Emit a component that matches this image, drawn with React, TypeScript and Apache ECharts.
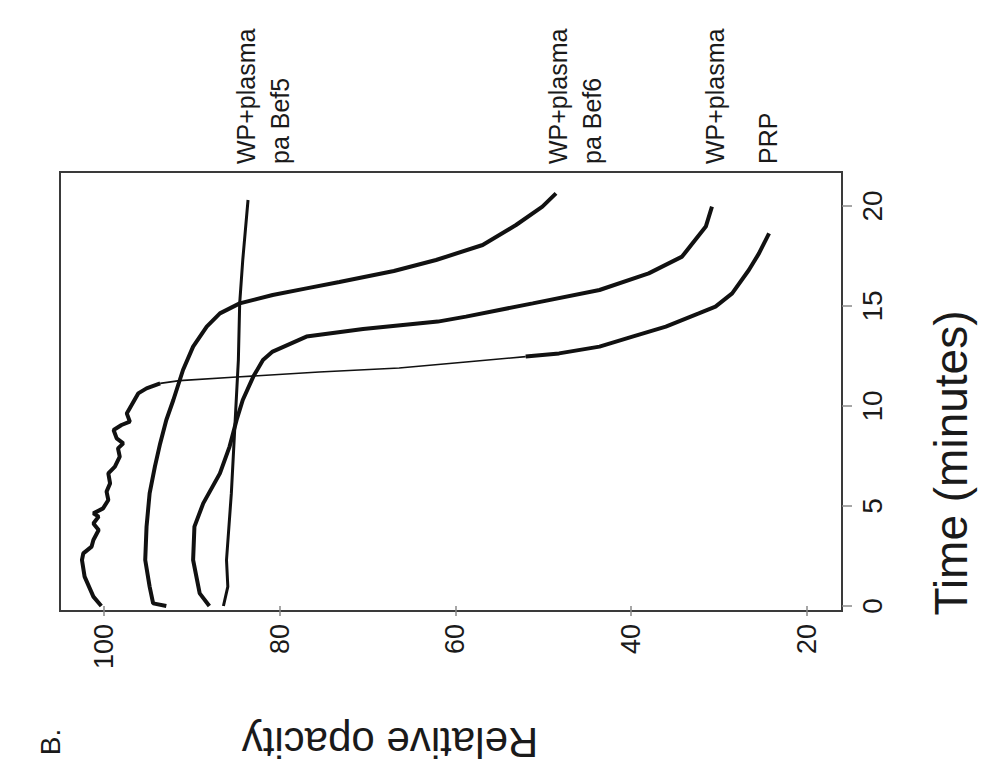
import React, { useEffect, useRef } from "react";
import * as echarts from "echarts";

const FONT = '"Liberation Sans", Arial, Helvetica, sans-serif';

// x-axis (horizontal): relative opacity, y-axis (vertical, right): time in minutes
const opacityTicks = [20, 40, 60, 80, 100];
const timeTicks = [0, 5, 10, 15, 20];

// PRP (jagged start, sharp drop around 11-12 min)
const prpTime = [0, 0.47, 1.47, 2.3, 2.63, 2.97, 3.3, 3.8, 4.13, 4.47, 4.63, 4.88, 5.3, 5.72, 6.13, 6.63, 6.97, 7.47, 7.88, 8.13, 8.38, 8.8, 9.05, 9.22, 9.63, 10.05, 10.63, 10.88, 11.13, 11.27, 11.45, 11.7, 11.9, 12.2, 12.47, 12.63, 12.97, 13.47, 13.97, 14.63, 14.97, 15.63, 16.8, 17.63, 18.63];
const prpOpacity = [100.3, 101.2, 102.2, 102.5, 102.35, 101.4, 101.2, 100.6, 101.2, 100.6, 101.2, 100.1, 99.5, 99.7, 99.3, 99.5, 98.75, 98.2, 98.4, 97.8, 98.55, 98.9, 98.0, 97.05, 97.4, 96.85, 96.1, 95.15, 93.6, 91.4, 84.9, 75.5, 66.4, 58.8, 52.0, 48.2, 43.6, 39.85, 36.05, 32.3, 30.4, 28.5, 26.6, 25.45, 24.3];

// WP+plasma pa Bef6
const bef6Time = [0, 0.13, 0.97, 2.3, 3.97, 5.63, 6.97, 8.13, 9.3, 10.3, 11.8, 12.97, 13.97, 14.63, 15.13, 15.55, 15.88, 16.2, 16.75, 17.3, 18.05, 19.05, 19.97, 20.63];
const bef6Opacity = [92.9, 94.4, 94.8, 95.3, 95.15, 94.8, 94.2, 93.6, 92.9, 92.1, 91.0, 89.85, 88.3, 86.8, 84.55, 80.8, 76.95, 73.2, 67.0, 62.2, 56.9, 53.1, 50.1, 48.55];

// WP+plasma
const wpTime = [0, 0.63, 2.3, 3.97, 5.13, 6.63, 7.97, 9.3, 10.3, 11.47, 12.3, 12.72, 13.47, 13.85, 14.22, 14.47, 15.13, 15.8, 16.63, 17.47, 18.97, 19.97];
const wpOpacity = [88.0, 89.1, 89.85, 89.7, 88.7, 86.8, 85.7, 84.9, 84.2, 83.0, 81.9, 80.8, 76.95, 70.5, 62.0, 58.8, 51.2, 43.6, 38.0, 34.2, 31.5, 30.8];

// WP+plasma pa Bef5
const bef5Time = [0, 0.97, 2.3, 5.63, 8.97, 12.3, 15.13, 17.3, 20.3];
const bef5Opacity = [86.4, 85.9, 86.05, 85.5, 85.1, 84.7, 84.55, 84.2, 83.6];

const zip = (o: number[], t: number[]) => o.map((v, i) => [v, t[i]]);

export default function App() {
  const ref = useRef<HTMLDivElement>(null);
  useEffect(() => {
    if (!ref.current) return;
    const chart = echarts.init(ref.current, null, { renderer: "svg" });
    const prp = zip(prpOpacity, prpTime);
    const lineBase = { type: "line", showSymbol: false, symbol: "none", smooth: false, silent: true };
    const txt = (text: string, x: number, y: number, size: number, rotation: number, align = "center") => ({
      type: "text",
      x,
      y,
      rotation,
      style: { text, fontSize: size, fontFamily: FONT, fill: "#1a1a1a", align, verticalAlign: "middle" },
    });
    chart.setOption({
      animation: false,
      backgroundColor: "#ffffff",
      grid: { left: 60, right: 142, top: 172, bottom: 171, show: true, borderColor: "#3a3a3a", borderWidth: 2, backgroundColor: "transparent" },
      xAxis: {
        type: "value",
        inverse: true,
        min: 16,
        max: 105,
        position: "bottom",
        axisLine: { show: false },
        splitLine: { show: false },
        axisTick: { show: true, customValues: opacityTicks, length: 10, lineStyle: { color: "#888", width: 1.5 } },
        axisLabel: { customValues: opacityTicks, rotate: 90, fontSize: 27, fontFamily: FONT, color: "#1a1a1a", margin: 13 },
      },
      yAxis: {
        type: "value",
        position: "right",
        min: -0.25,
        max: 21.7,
        axisLine: { show: false },
        splitLine: { show: false },
        axisTick: { show: true, customValues: timeTicks, length: 10, lineStyle: { color: "#888", width: 1.5 } },
        axisLabel: { customValues: timeTicks, rotate: 90, fontSize: 28, fontFamily: FONT, color: "#1a1a1a", margin: 16 },
      },
      series: [
        { ...lineBase, name: "PRP plateau", data: prp.slice(0, 29), lineStyle: { color: "#111", width: 4 } },
        { ...lineBase, name: "PRP drop", data: prp.slice(28, 35), lineStyle: { color: "#111", width: 1.6 } },
        { ...lineBase, name: "PRP end", data: prp.slice(34), lineStyle: { color: "#111", width: 4 } },
        { ...lineBase, name: "WP+plasma pa Bef6", data: zip(bef6Opacity, bef6Time), lineStyle: { color: "#111", width: 4 } },
        { ...lineBase, name: "WP+plasma", data: zip(wpOpacity, wpTime), lineStyle: { color: "#111", width: 4 } },
        { ...lineBase, name: "WP+plasma pa Bef5", data: zip(bef5Opacity, bef5Time), lineStyle: { color: "#111", width: 3 } },
      ],
      graphic: [
        txt("Time (minutes)", 951, 463, 46, Math.PI / 2),
        txt("Relative opacity", 390, 742, 42, Math.PI),
        txt("B.", 50, 742, 28, Math.PI / 2),
        txt("WP+plasma", 246, 164, 25, Math.PI / 2, "left"),
        txt("pa Bef5", 280, 164, 25, Math.PI / 2, "left"),
        txt("WP+plasma", 558, 164, 25, Math.PI / 2, "left"),
        txt("pa Bef6", 592, 164, 25, Math.PI / 2, "left"),
        txt("WP+plasma", 715, 164, 25, Math.PI / 2, "left"),
        txt("PRP", 768, 164, 25, Math.PI / 2, "left"),
      ],
    });
    return () => chart.dispose();
  }, []);
  return <div ref={ref} style={{ position: "fixed", left: 0, top: 0, width: 984, height: 782 }} />;
}
